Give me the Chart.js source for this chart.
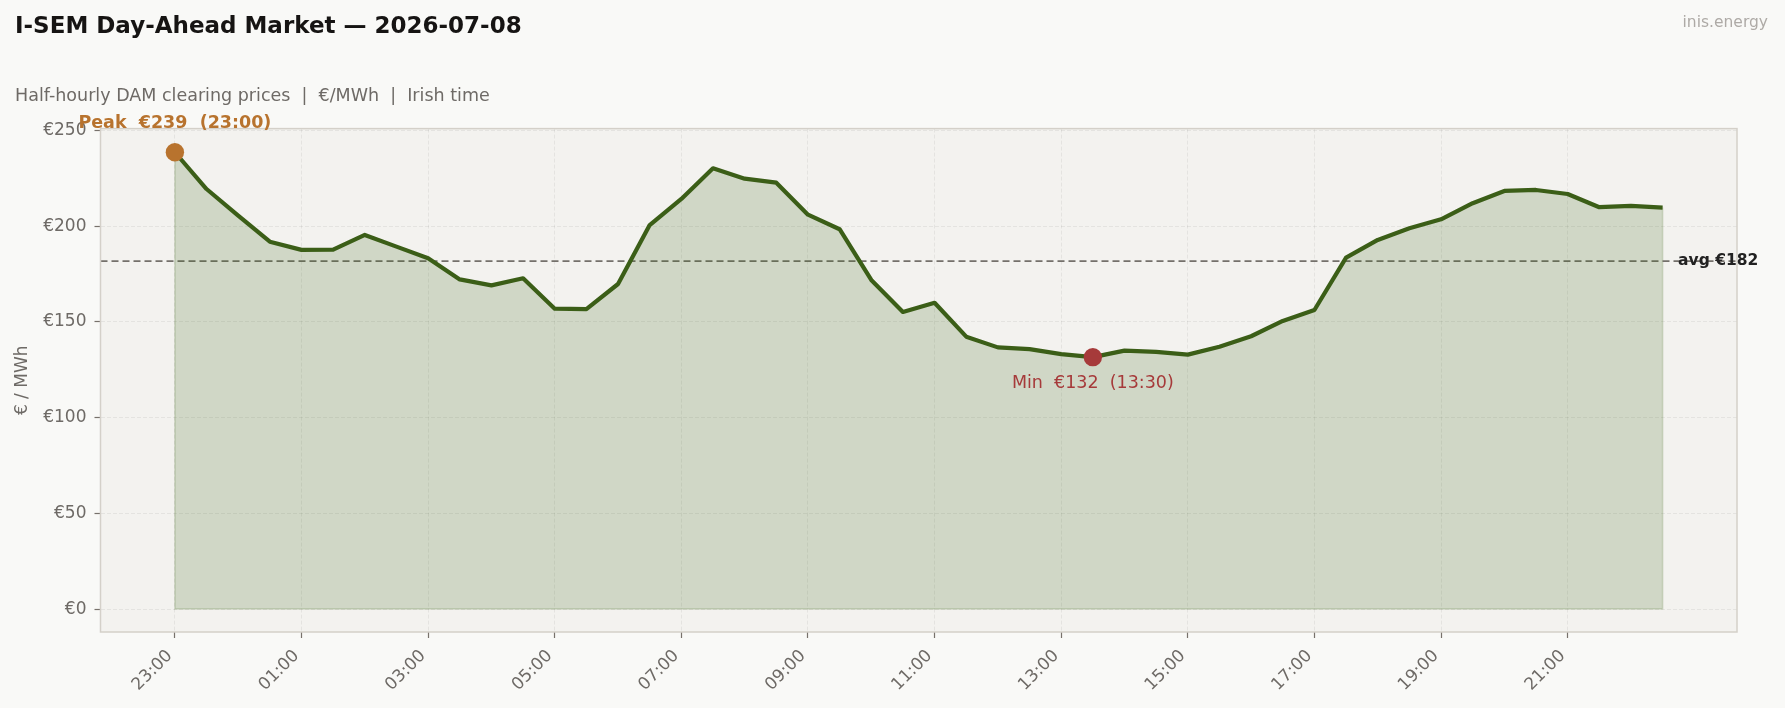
<!DOCTYPE html>
<html>
<head>
<meta charset="utf-8">
<title>I-SEM DAM</title>
<script src="https://cdn.jsdelivr.net/npm/chart.js@4.4.1/dist/chart.umd.min.js"></script>
<style>
  html, body { margin: 0; padding: 0; background: #f9f9f7; }
  #wrap { width: 1785px; height: 708px; }
</style>
</head>
<body>
<div id="wrap"><canvas id="damChart" width="1785" height="708"></canvas></div>
<script>
// half-hourly periods, trading day starts 23:00 Irish time
var times = ['23:00','23:30','00:00','00:30','01:00','01:30','02:00','02:30',
             '03:00','03:30','04:00','04:30','05:00','05:30','06:00','06:30',
             '07:00','07:30','08:00','08:30','09:00','09:30','10:00','10:30',
             '11:00','11:30','12:00','12:30','13:00','13:30','14:00','14:30',
             '15:00','15:30','16:00','16:30','17:00','17:30','18:00','18:30',
             '19:00','19:30','20:00','20:30','21:00','21:30','22:00','22:30'];

// DAM clearing price, EUR/MWh
var prices = [238.6, 219.4, 205.5, 191.9, 187.6, 187.7, 195.4, 189.3, 183.2, 172.2,
              169.1, 172.8, 156.9, 156.7, 169.8, 200.6, 214.2, 230.2, 224.8, 222.7,
              206.0, 198.4, 171.9, 155.2, 160.0, 142.3, 136.7, 135.8, 133.2, 131.6,
              135.0, 134.3, 132.9, 137.0, 142.5, 150.5, 156.2, 183.6, 192.8, 198.9,
              203.6, 212.0, 218.4, 218.9, 216.8, 209.9, 210.6, 209.7];

// which periods get a label on the x axis
var xTickIdx = [0, 4, 8, 12, 16, 20, 24, 28, 32, 36, 40, 44];
var yTickVals = [0, 50, 100, 150, 200, 250];

var FONT = '"DejaVu Sans", sans-serif';

var peakIdx = 0, minIdx = 0, total = 0;
for (var i = 0; i < prices.length; i++) {
  if (prices[i] > prices[peakIdx]) peakIdx = i;
  if (prices[i] < prices[minIdx]) minIdx = i;
  total += prices[i];
}
var avg = total / prices.length;

var points = [];
for (var i = 0; i < prices.length; i++) {
  points.push({ x: i, y: prices[i] });
}

var decor = {
  id: 'decor',
  beforeDraw: function(chart) {
    var ctx = chart.ctx, a = chart.chartArea;
    ctx.save();
    ctx.fillStyle = '#f9f9f7';
    ctx.fillRect(0, 0, chart.width, chart.height);
    ctx.fillStyle = '#f3f2ef';
    ctx.fillRect(a.left, a.top, a.right - a.left, a.bottom - a.top);

    ctx.textBaseline = 'alphabetic';
    ctx.textAlign = 'left';
    ctx.fillStyle = '#161413';
    ctx.font = 'bold 23px ' + FONT;
    ctx.fillText('I-SEM Day-Ahead Market \u2014 2026-07-08', 15, 33);

    ctx.fillStyle = '#6e6a66';
    ctx.font = '17.5px ' + FONT;
    ctx.fillText('Half-hourly DAM clearing prices  |  \u20ac/MWh  |  Irish time', 15, 101);

    ctx.textAlign = 'right';
    ctx.fillStyle = '#aeaaa6';
    ctx.font = '15.5px ' + FONT;
    ctx.fillText('inis.energy', 1768, 27);
    ctx.restore();
  },
  beforeDatasetsDraw: function(chart) {
    var ctx = chart.ctx, a = chart.chartArea;
    var xs = chart.scales.x, ys = chart.scales.y;
    ctx.save();
    // edge of the filled area
    var y0 = ys.getPixelForValue(0);
    var last = prices.length - 1;
    ctx.strokeStyle = 'rgba(58,100,20,0.2)';
    ctx.lineWidth = 1.5;
    ctx.beginPath();
    ctx.moveTo(xs.getPixelForValue(0), ys.getPixelForValue(prices[0]));
    ctx.lineTo(xs.getPixelForValue(0), y0);
    ctx.lineTo(xs.getPixelForValue(last), y0);
    ctx.lineTo(xs.getPixelForValue(last), ys.getPixelForValue(prices[last]));
    ctx.stroke();

    // average line
    var ya = ys.getPixelForValue(avg);
    ctx.strokeStyle = '#74706b';
    ctx.lineWidth = 1.6;
    ctx.setLineDash([7, 4]);
    ctx.beginPath();
    ctx.moveTo(a.left, ya);
    ctx.lineTo(a.right, ya);
    ctx.stroke();
    ctx.restore();
  },
  afterDraw: function(chart) {
    var ctx = chart.ctx, a = chart.chartArea;
    var xs = chart.scales.x, ys = chart.scales.y;
    ctx.save();
    ctx.strokeStyle = '#d4d0c9';
    ctx.lineWidth = 1.5;
    ctx.strokeRect(a.left, a.top, a.right - a.left, a.bottom - a.top);

    ctx.textAlign = 'center';
    ctx.textBaseline = 'alphabetic';
    ctx.font = 'bold 17.5px ' + FONT;
    ctx.fillStyle = '#b8732e';
    ctx.fillText('Peak  \u20ac' + Math.round(prices[peakIdx]) + '  (' + times[peakIdx] + ')',
      xs.getPixelForValue(peakIdx), ys.getPixelForValue(prices[peakIdx]) - 24);

    ctx.font = '17.5px ' + FONT;
    ctx.fillStyle = '#a63a3a';
    ctx.fillText('Min  \u20ac' + Math.round(prices[minIdx]) + '  (' + times[minIdx] + ')',
      xs.getPixelForValue(minIdx), ys.getPixelForValue(prices[minIdx]) + 31);

    ctx.textAlign = 'left';
    ctx.textBaseline = 'middle';
    ctx.font = 'bold 15.5px ' + FONT;
    ctx.fillStyle = '#222';
    ctx.fillText('avg \u20ac' + Math.round(avg), xs.getPixelForValue(prices.length - 1) + 15.5, ys.getPixelForValue(avg));
    ctx.restore();
  }
};

var ctx = document.getElementById('damChart');

var chart = new Chart(ctx, {
  type: 'line',
  data: {
    datasets: [
      {
        label: 'Peak',
        data: [{ x: peakIdx, y: prices[peakIdx] }],
        showLine: false,
        pointRadius: 9.2,
        pointBackgroundColor: '#b8732e',
        pointBorderWidth: 0,
        order: 0
      },
      {
        label: 'Min',
        data: [{ x: minIdx, y: prices[minIdx] }],
        showLine: false,
        pointRadius: 9.2,
        pointBackgroundColor: '#a63a3a',
        pointBorderWidth: 0,
        order: 0
      },
      {
        label: 'DAM price',
        data: points,
        borderColor: '#3b5e17',
        borderWidth: 4.2,
        backgroundColor: 'rgba(58,100,20,0.19)',
        fill: 'origin',
        tension: 0,
        pointRadius: 0,
        borderJoinStyle: 'round',
        order: 1
      }
    ]
  },
  options: {
    responsive: false,
    animation: false,
    devicePixelRatio: 1,
    layout: { padding: { top: 128.6, right: 48, left: 0, bottom: 0 } },
    plugins: {
      legend: { display: false },
      tooltip: { enabled: false }
    },
    scales: {
      x: {
        type: 'linear',
        min: -2.35,
        max: 49.35,
        afterBuildTicks: function(scale) {
          scale.ticks = xTickIdx.map(function(v) { return { value: v }; });
        },
        afterFit: function(scale) { scale.height = 76; },
        border: { display: false, dash: [4, 2] },
        grid: {
          color: 'rgba(0,0,0,0.06)',
          lineWidth: 1,
          drawTicks: true,
          tickLength: 6,
          tickColor: '#77716b',
          tickWidth: 1.2,
          tickBorderDash: []
        },
        ticks: {
          autoSkip: false,
          minRotation: 45,
          maxRotation: 45,
          padding: 8,
          labelOffset: -5,
          color: '#6e6a66',
          font: { family: FONT, size: 17 },
          callback: function(v) { return times[v]; }
        }
      },
      y: {
        min: -11.95,
        max: 250.95,
        afterBuildTicks: function(scale) {
          scale.ticks = yTickVals.map(function(v) { return { value: v }; });
        },
        afterFit: function(scale) { scale.width = 100.5; },
        border: { display: false, dash: [4, 2] },
        grid: {
          color: 'rgba(0,0,0,0.06)',
          lineWidth: 1,
          drawTicks: true,
          tickLength: 6,
          tickColor: '#77716b',
          tickWidth: 1.2,
          tickBorderDash: []
        },
        ticks: {
          padding: 8,
          color: '#6e6a66',
          font: { family: FONT, size: 17 },
          callback: function(v) { return '\u20ac' + v; }
        },
        title: {
          display: true,
          text: '\u20ac / MWh',
          color: '#6e6a66',
          font: { family: FONT, size: 17 },
          padding: { top: 12, bottom: 0 }
        }
      }
    }
  },
  plugins: [decor]
});
</script>
</body>
</html>
